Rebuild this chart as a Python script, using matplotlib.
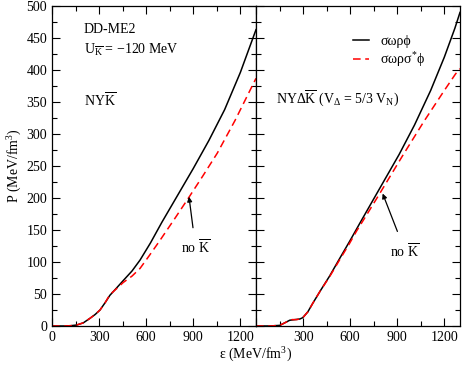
import matplotlib
matplotlib.use("Agg")
import matplotlib.pyplot as plt
from matplotlib.ticker import MultipleLocator, FixedLocator

plt.rcParams['font.family'] = ['Liberation Serif', 'DejaVu Serif']
plt.rcParams['mathtext.fontset'] = 'custom'
plt.rcParams['mathtext.rm'] = 'Liberation Serif'
plt.rcParams['mathtext.it'] = 'Liberation Serif:italic'
plt.rcParams['font.size'] = 10

# ---- data ----
# left panel: NY Kbar
left_eps_a = [0, 80, 120, 157, 200, 242, 275, 306, 340, 369, 410, 454, 510, 561, 628, 700, 800, 900, 1000, 1100, 1200, 1300]
left_P_a   = [0, 0, 0.5, 1.5, 5, 12, 18, 25, 37, 48, 59, 71, 86, 103, 130, 162, 204, 246, 290, 338, 396, 463]
left_eps_b = [0, 80, 120, 157, 200, 242, 275, 306, 340, 369, 410, 454, 510, 561, 620, 683, 780, 875, 960, 1053, 1166, 1300]
left_P_b   = [0, 0, 0.5, 1.5, 5, 12, 18, 25, 37, 49, 58, 68, 78, 90, 110, 132, 167, 202, 234, 270, 321, 387]

# right panel: NY Delta Kbar
right_eps_a = [0, 89, 152, 215, 250, 280, 298, 330, 363, 410, 469, 532, 596, 665, 786, 912, 1010, 1113, 1200, 1267, 1300]
right_P_a   = [0, 0, 1, 9, 10, 11, 13, 22, 36, 55, 78, 105, 132, 162, 214, 268, 314, 368, 420, 465, 490]
right_eps_b = [0, 89, 152, 200, 230, 260, 280, 298, 330, 363, 410, 469, 532, 596, 640, 701, 786, 934, 1071, 1200, 1272, 1300]
right_P_b   = [0, 0, 1, 7, 10, 10, 11, 13, 22, 36, 55, 77, 103, 129, 148, 172, 206, 266, 320, 368, 394, 402]

x_ticks_left = [0, 300, 600, 900, 1200]
x_ticks_right = [300, 600, 900, 1200]
y_ticks = [0, 50, 100, 150, 200, 250, 300, 350, 400, 450, 500]

label_a = 'σωρϕ'
label_b = r'σωρσ$^{*}$ϕ'

W, H = 463, 369
fig = plt.figure(figsize=(W / 100, H / 100), dpi=100)
axL = fig.add_axes([52 / W, 1 - 326 / H, 204 / W, 320 / H])
axR = fig.add_axes([256 / W, 1 - 326 / H, 204 / W, 320 / H])

for ax in (axL, axR):
    ax.set_xlim(0, 1300)
    ax.set_ylim(0, 500)
    ax.xaxis.set_minor_locator(MultipleLocator(150))
    ax.yaxis.set_minor_locator(MultipleLocator(25))
    ax.yaxis.set_major_locator(FixedLocator(y_ticks))
    ax.tick_params(which='both', direction='in', top=True, right=True, labelsize=10, width=0.8)
    ax.tick_params(which='major', length=6)
    ax.tick_params(which='minor', length=3.3)
    for s in ax.spines.values():
        s.set_linewidth(0.9)

axL.set_xticks(x_ticks_left)
axR.set_xticks([0] + x_ticks_right)
axR.set_xticklabels([''] + [str(v) for v in x_ticks_right])
axR.tick_params(labelleft=False)

dash = (0, (5, 3))
axL.plot(left_eps_a, left_P_a, color='black', lw=1.1, label=label_a)
axL.plot(left_eps_b, left_P_b, color='#ff0000', lw=1.1, ls=dash, label=label_b)
axR.plot(right_eps_a, right_P_a, color='black', lw=1.1, label=label_a)
axR.plot(right_eps_b, right_P_b, color='#ff0000', lw=1.1, ls=dash, label=label_b)

axL.set_ylabel('P (MeV/fm$^3$)', fontsize=10, labelpad=2)
fig.text(256 / W, 1 - 355 / H, 'ε (MeV/fm$^3$)', ha='center', va='center', fontsize=10)

axL.text(0.155, 0.928, 'DD-ME2', transform=axL.transAxes, fontsize=10, va='center')
axL.text(0.155, 0.862, r'U$_{\overline{\mathrm{K}}}$ = −120 MeV', transform=axL.transAxes, fontsize=10, va='center')
axL.text(0.155, 0.705, r'NY$\overline{\mathrm{K}}$', transform=axL.transAxes, fontsize=10, va='center')
axR.text(0.10, 0.712, r'NYΔ$\overline{\mathrm{K}}$ (V$_{\Delta}$ = 5/3 V$_{\mathrm{N}}$)', transform=axR.transAxes, fontsize=10, va='center')

axL.annotate(r'no $\overline{\mathrm{K}}$', xy=(873, 202), xytext=(915, 122), ha='center', va='center', fontsize=10,
             arrowprops=dict(arrowstyle='-|>', color='black', lw=0.9, mutation_scale=7, shrinkA=6, shrinkB=0))
axR.annotate(r'no $\overline{\mathrm{K}}$', xy=(807, 207), xytext=(950, 117), ha='center', va='center', fontsize=10,
             arrowprops=dict(arrowstyle='-|>', color='black', lw=0.9, mutation_scale=7, shrinkA=6, shrinkB=0))

axR.legend(loc='upper left', bbox_to_anchor=(0.45, 0.928), frameon=False, fontsize=10,
           handlelength=1.15, handletextpad=0.8, labelspacing=0.2, borderaxespad=0)

fig.savefig('out.png', dpi=100)
